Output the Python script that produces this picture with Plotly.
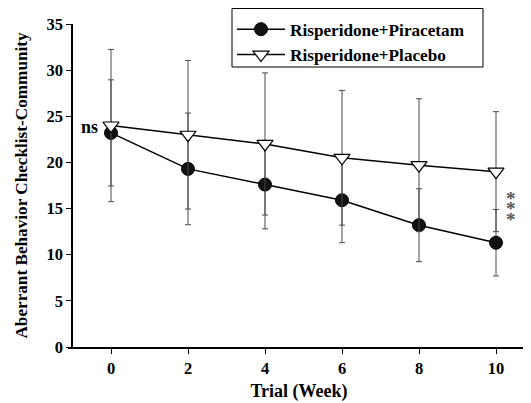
import plotly.graph_objects as go

weeks = [0, 2, 4, 6, 8, 10]
piracetam_mean = [23.2, 19.3, 17.6, 15.9, 13.2, 11.3]
piracetam_sd = [5.75, 6.05, 4.8, 4.6, 3.95, 3.6]
placebo_mean = [24.0, 23.0, 22.0, 20.5, 19.7, 19.0]
placebo_sd = [8.25, 8.05, 7.7, 7.3, 7.2, 6.5]
series_names = ["Risperidone+Piracetam", "Risperidone+Placebo"]
x_ticks = [0, 2, 4, 6, 8, 10]
y_ticks = [0, 5, 10, 15, 20, 25, 30, 35]

FONT = "Liberation Serif"
# page body has an 8px margin, so the figure is 8px smaller than the window
W, H = 523, 395
ML, MR, MT, MB = 60, 1, 16, 56
PW, PH = W - ML - MR, H - MT - MB


def px(fx):
    return (fx - ML) / PW


def py(fy):
    return (H - MB - fy) / PH


fig = go.Figure()
fig.add_trace(go.Scatter(
    x=weeks, y=piracetam_mean, name="<b>" + series_names[0] + "</b>", mode="lines+markers",
    line=dict(color="black", width=1.5),
    marker=dict(symbol="circle", size=13, color="#111111", line=dict(color="black", width=1)),
    error_y=dict(type="data", array=piracetam_sd, visible=True, color="#4a4a4a", thickness=1, width=3),
))
fig.add_trace(go.Scatter(
    x=weeks, y=placebo_mean, name="<b>" + series_names[1] + "</b>", mode="lines+markers",
    line=dict(color="black", width=1.5),
    marker=dict(symbol="triangle-down", size=14, color="white", line=dict(color="black", width=1.2)),
    error_y=dict(type="data", array=placebo_sd, visible=True, color="#4a4a4a", thickness=1, width=3),
))

annotations = [
    dict(x=-0.29, y=23.8, xref="x", yref="y", text="<b>ns</b>", showarrow=False,
         xanchor="right", yanchor="middle", font=dict(family=FONT, size=18, color="black")),
]
for yv in [16.6, 15.5, 14.4]:
    annotations.append(dict(x=10.38, y=yv, xref="x", yref="y", text="<b>*</b>", showarrow=False,
                            xanchor="center", yanchor="middle", yshift=-5,
                            font=dict(family=FONT, size=19, color="#555555")))

shapes = [
    dict(type="rect", xref="paper", yref="paper",
         x0=px(224), x1=px(475), y0=py(59), y1=py(0.5),
         line=dict(color="black", width=1), fillcolor="rgba(0,0,0,0)", layer="above"),
]

fig.update_layout(
    width=W, height=H,
    margin=dict(l=ML, r=MR, t=MT, b=MB, autoexpand=False),
    paper_bgcolor="white", plot_bgcolor="white",
    font=dict(family=FONT, size=16, color="black"),
    showlegend=True,
    legend=dict(
        x=px(224), y=py(3.5),
        xanchor="left", yanchor="top",
        borderwidth=0, bgcolor="rgba(0,0,0,0)",
        font=dict(family=FONT, size=17.2, color="black"),
        tracegroupgap=0, itemwidth=48,
    ),
    annotations=annotations,
    shapes=shapes,
    xaxis=dict(
        range=[-1.117, 10.883], tickvals=x_ticks, ticktext=["<b>%d</b>" % v for v in x_ticks],
        showline=True, linecolor="black", linewidth=1.5, mirror=False,
        ticks="outside", ticklen=5, tickwidth=1, tickcolor="black",
        showgrid=False, zeroline=False, automargin=False,
        tickfont=dict(family=FONT, size=16.5),
        title=dict(text="<b>Trial (Week)</b>", font=dict(family=FONT, size=18), standoff=8),
    ),
    yaxis=dict(
        range=[0, 35], tickvals=y_ticks, ticktext=["<b>%d</b>" % v for v in y_ticks],
        anchor="free", position=4 / PW,
        showline=True, linecolor="black", linewidth=1.5,
        ticks="outside", ticklen=5, tickwidth=1, tickcolor="black",
        showgrid=False, zeroline=False, automargin=False,
        tickfont=dict(family=FONT, size=16.5),
        title=dict(text="<b>Aberrant Behavior Checklist-Community</b>", font=dict(family=FONT, size=17.2), standoff=13),
    ),
)

fig.write_html("out.html")
